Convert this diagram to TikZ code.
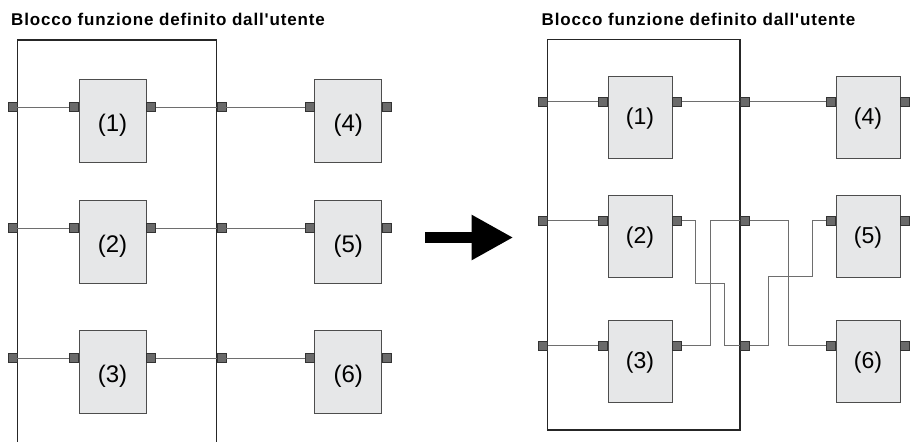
\documentclass[tikz,border=0pt]{standalone}
\usepackage{fontspec}
\setmainfont{Liberation Sans}
\newfontfamily\titlefont[LetterSpace=5]{Liberation Sans}
\usetikzlibrary{arrows.meta}
\definecolor{blockFill}{HTML}{E6E7E8}
\definecolor{blockLine}{HTML}{4D4D4D}
\definecolor{portFill}{HTML}{6A6A6A}
\definecolor{portLine}{HTML}{333333}
\definecolor{wireGray}{HTML}{6E6E6E}
\definecolor{frameDark}{HTML}{262626}

\begin{document}
\begin{tikzpicture}[x=1pt, y=-1pt,
    title/.style={anchor=base west, inner sep=0pt,
                  font=\titlefont\bfseries\fontsize{17}{20}\selectfont},
    fblock/.style={rectangle, draw=blockLine, fill=blockFill, line width=0.9pt,
                   inner sep=0pt, minimum width=67pt, minimum height=83pt,
                   text height=22.4pt, text depth=0pt,
                   font=\fontsize{24}{28}\selectfont},
    fblockR/.style={fblock, minimum width=64pt, minimum height=82pt,
                    text height=15.9pt, font=\fontsize{23}{27}\selectfont},
    port/.style={rectangle, draw=portLine, fill=portFill, line width=0.6pt,
                 minimum size=9pt, inner sep=0pt},
    wire/.style={draw=wireGray, line width=0.9pt},
    frame/.style={draw=frameDark, line width=1.4pt},
  ]
    \useasboundingbox (0,0) rectangle (911,442);

    % before
    \node[title] (titleL) at (11,25.7) {Blocco funzione definito dall'utente};
    \draw[frame] (17.3,443) -- (17.3,40) -- (216.5,40) -- (216.5,443);
    \foreach \i/\j/\y in {1/4/107, 2/5/228, 3/6/358} {
      \node[fblock] (L\i) at (112.5,\y+13.5) {(\i)};
      \node[fblock] (L\j) at (348.3,\y+13.5) {(\j)};
      \node[port, anchor=east] (Fi\i) at (17.3,\y) {};
      \node[port, anchor=east] (Ai\i) at (79,\y) {};
      \node[port, anchor=west] (Ao\i) at (146,\y) {};
      \node[port, anchor=west] (Fo\i) at (216.5,\y) {};
      \node[port, anchor=east] (Bi\i) at (314.8,\y) {};
      \node[port, anchor=west] (Bo\i) at (381.8,\y) {};
      \draw[wire] (Fi\i) -- (Ai\i);
      \draw[wire] (Ao\i) -- (Fo\i);
      \draw[wire] (Fo\i) -- (Bi\i);
    }

    \coordinate (go) at (425,237.5);
    \coordinate (stop) at (513.3,237.5);
    \draw[black, line width=10.4pt, -{Triangle[length=41.6pt, width=42.3pt]}]
      (go) -- (stop);

    % after
    \node[title] (titleR) at (541.5,25.5) {Blocco funzione definito dall'utente};
    \draw[frame] (547.7,39.3) rectangle (740,430);
    \foreach \i/\j/\y in {1/4/101.7, 2/5/220.7, 3/6/345.7} {
      \node[fblockR] (R\i) at (640,\y+15.3) {(\i)};
      \node[fblockR] (R\j) at (868,\y+15.3) {(\j)};
      \node[port, anchor=east] (Gi\i) at (547.7,\y) {};
      \node[port, anchor=east] (Ci\i) at (608,\y) {};
      \node[port, anchor=west] (Co\i) at (672,\y) {};
      \node[port, anchor=west] (Go\i) at (740,\y) {};
      \node[port, anchor=east] (Di\i) at (836,\y) {};
      \node[port, anchor=west] (Do\i) at (900,\y) {};
      \draw[wire] (Gi\i) -- (Ci\i);
    }
    \draw[wire] (Co1) -- (Go1);
    \draw[wire] (Go1) -- (Di1);
    \draw[wire] (Co2.east) -| (695,283.3) -| (724,345.7) -- (Go3.west);
    \draw[wire] (Co3.east) -| (710,220.7) -- (Go2.west);
    \draw[wire] (Go2.east) -| (788.3,345.7) -- (Di3.west);
    \draw[wire] (Go3.east) -| (768.3,276.7) -| (812.7,220.7) -- (Di2.west);
  \end{tikzpicture}
\end{document}
